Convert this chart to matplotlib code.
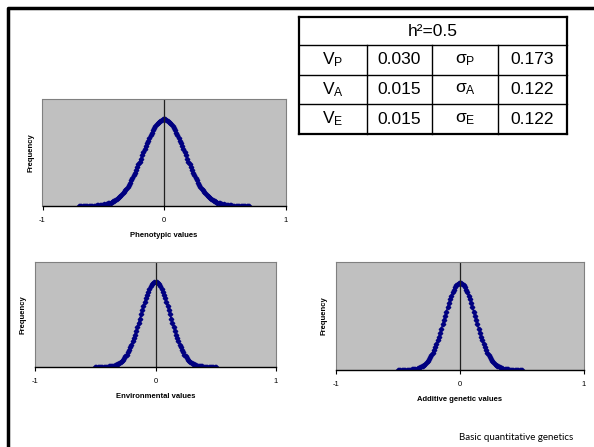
import matplotlib
matplotlib.use('Agg')
import matplotlib.pyplot as plt
import numpy as np
from matplotlib.lines import Line2D

plt.rcParams['font.family'] = ['Liberation Sans', 'DejaVu Sans']
plt.rcParams['mathtext.fontset'] = 'custom'
plt.rcParams['mathtext.rm'] = 'Liberation Sans'
plt.rcParams['mathtext.it'] = 'Liberation Sans'

# relative frequency, from x = 0 outwards (curves are symmetric)
pheno_half = [1.0, 0.9983, 0.9934, 0.9851, 0.9737, 0.9592, 0.9418, 0.9216, 0.8988, 0.8737,
              0.8465, 0.8174, 0.7866, 0.7545, 0.7213, 0.6873, 0.6527, 0.6177, 0.5827, 0.5479,
              0.5134, 0.4795, 0.4463, 0.4141, 0.3829, 0.3529, 0.3241, 0.2967, 0.2707, 0.2462,
              0.2231, 0.2016, 0.1815, 0.1628, 0.1456, 0.1298, 0.1153, 0.1021, 0.0901, 0.0793,
              0.0695, 0.0607, 0.0529, 0.0459, 0.0397, 0.0342, 0.0294, 0.0252, 0.0215, 0.0183,
              0.0155, 0.0131, 0.0110, 0.0093, 0.0077, 0.0065, 0.0054, 0.0044, 0.0037, 0.0030,
              0.0025, 0.0020, 0.0016, 0.0013, 0.0011, 0.0008, 0.0007, 0.0005, 0.0004, 0.0003,
              0.0003]
env_half = [1.0, 0.9967, 0.9868, 0.9704, 0.9481, 0.9200, 0.8869, 0.8494, 0.8078, 0.7634,
            0.7165, 0.6682, 0.6188, 0.5693, 0.5203, 0.4724, 0.4260, 0.3815, 0.3396, 0.3002,
            0.2636, 0.2299, 0.1992, 0.1715, 0.1466, 0.1245, 0.1050, 0.0880, 0.0733, 0.0606,
            0.0498, 0.0406, 0.0329, 0.0265, 0.0212, 0.0168, 0.0133, 0.0104, 0.0081, 0.0063,
            0.0048, 0.0037, 0.0028, 0.0021, 0.0016, 0.0012, 0.0009, 0.0006, 0.0005, 0.0003,
            0.0002]
add_half = list(env_half)

pheno_x = np.round(np.arange(-0.70, 0.7001, 0.01), 2)
env_x = np.round(np.arange(-0.50, 0.5001, 0.01), 2)
add_x = env_x.copy()

pheno_y = pheno_half[:0:-1] + pheno_half
env_y = env_half[:0:-1] + env_half
add_y = add_half[:0:-1] + add_half

xticks = [-1, 0, 1]

# table contents
table_title = 'h²=0.5'
table_rows = [['V$_\\mathrm{P}$', '0.030', 'σ$_\\mathrm{P}$', '0.173'],
              ['V$_\\mathrm{A}$', '0.015', 'σ$_\\mathrm{A}$', '0.122'],
              ['V$_\\mathrm{E}$', '0.015', 'σ$_\\mathrm{E}$', '0.122']]

W, H = 594, 447
fig = plt.figure(figsize=(W / 100, H / 100), dpi=100)


def px_axes(x0, y0, x1, y1):
    return fig.add_axes([x0 / W, 1 - y1 / H, (x1 - x0) / W, (y1 - y0) / H])


def draw_panel(ax, x, y, xlabel):
    ax.set_facecolor('#c0c0c0')
    ax.plot(x, y, color='#000080', marker='D', markersize=2.3, lw=1.0)
    ax.axvline(0, color='#202020', lw=0.9)
    ax.set_xlim(-1, 1)
    ax.set_ylim(0, 1.0 / 0.81)
    ax.set_xticks(xticks)
    ax.set_xticklabels(['-1', '0', '1'])
    ax.set_yticks([])
    for s in ['top', 'right', 'left']:
        ax.spines[s].set_color('#808080')
        ax.spines[s].set_linewidth(0.8)
    ax.spines['bottom'].set_color('black')
    ax.spines['bottom'].set_linewidth(1.0)
    ax.tick_params(axis='x', length=3, width=0.8, pad=5, labelsize=5.5)
    ax.set_xlabel(xlabel, fontsize=5.5, fontweight='bold', labelpad=6)
    ax.set_ylabel('Frequency', fontsize=5.5, fontweight='bold', labelpad=6)


ax1 = px_axes(42.5, 99, 285.5, 206)
draw_panel(ax1, pheno_x, pheno_y, 'Phenotypic values')
ax2 = px_axes(35, 262, 276, 367)
draw_panel(ax2, env_x, env_y, 'Environmental values')
ax3 = px_axes(336, 262, 584, 370)
draw_panel(ax3, add_x, add_y, 'Additive genetic values')

# table drawn as lines and text in pixel coordinates
col_edges = [299, 367, 432, 498, 567]
row_edges = [17, 45, 75, 104, 134]


def fx(px):
    return px / W


def fy(py):
    return 1 - py / H


lw_tab = 1.0
fig.add_artist(Line2D([fx(299), fx(567)], [fy(17), fy(17)], color='black', lw=1.6))
fig.add_artist(Line2D([fx(299), fx(567)], [fy(134), fy(134)], color='black', lw=1.6))
fig.add_artist(Line2D([fx(299), fx(299)], [fy(17), fy(134)], color='black', lw=1.6))
fig.add_artist(Line2D([fx(567), fx(567)], [fy(17), fy(134)], color='black', lw=1.6))
for ry in row_edges[1:-1]:
    fig.add_artist(Line2D([fx(299), fx(567)], [fy(ry), fy(ry)], color='black', lw=lw_tab))
for cx in col_edges[1:-1]:
    fig.add_artist(Line2D([fx(cx), fx(cx)], [fy(45), fy(134)], color='black', lw=lw_tab))

fig.text(fx(433), fy(31), table_title, ha='center', va='center', fontsize=12.5)
for i, row in enumerate(table_rows):
    yc = (row_edges[i + 1] + row_edges[i + 2]) / 2
    for j, cell in enumerate(row):
        xc = (col_edges[j] + col_edges[j + 1]) / 2
        fig.text(fx(xc), fy(yc), cell, ha='center', va='center', fontsize=12.5)

# slide frame
fig.add_artist(Line2D([fx(8), fx(8), fx(600)], [fy(450), fy(8), fy(8)],
                      color='black', lw=2.5))

fig.text(fx(573), fy(437), 'Basic quantitative genetics', ha='right', va='center',
         fontsize=7, family=['Lato', 'DejaVu Sans'])

fig.savefig('out.png', dpi=100)
